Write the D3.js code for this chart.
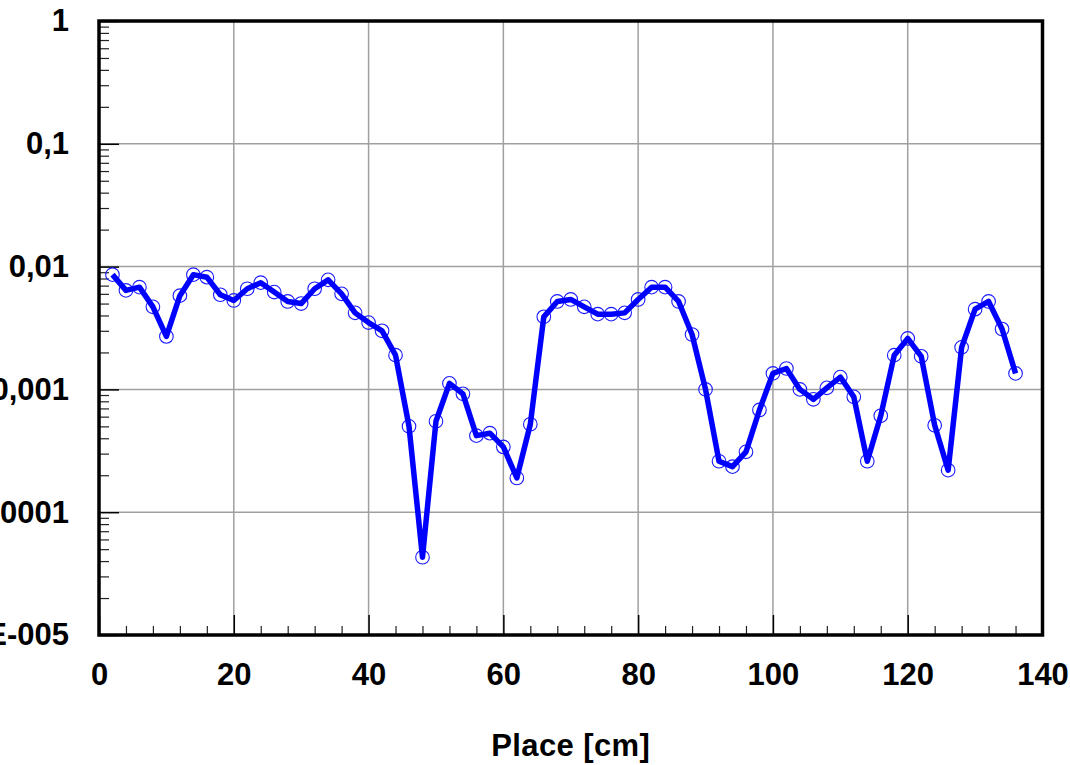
<!DOCTYPE html>
<html>
<head>
<meta charset="utf-8">
<script src="https://cdn.jsdelivr.net/npm/d3@7"></script>
<style>
  body { margin: 0; background: #fff; }
  svg { display: block; }
  text { font-family: "Liberation Sans", Arial, sans-serif; font-weight: bold; }
</style>
</head>
<body>
<div class="app"></div>
<script>
// Data
const place = [2, 4, 6, 8, 10, 12, 14, 16, 18, 20, 22, 24, 26, 28, 30, 32, 34, 36, 38, 40,
  42, 44, 46, 48, 50, 52, 54, 56, 58, 60, 62, 64, 66, 68, 70, 72, 74, 76, 78, 80,
  82, 84, 86, 88, 90, 92, 94, 96, 98, 100, 102, 104, 106, 108, 110, 112, 114, 116, 118, 120,
  122, 124, 126, 128, 130, 132, 134, 136];
const value = [0.0086, 0.0064, 0.0068, 0.0047, 0.0027, 0.0058, 0.0086, 0.0082, 0.0059, 0.0053,
  0.0066, 0.0074, 0.0062, 0.0052, 0.0050, 0.0066, 0.0078, 0.0060, 0.0042, 0.0035,
  0.0030, 0.0019, 0.00050, 0.000043, 0.00055, 0.00112, 0.00092, 0.00042, 0.00044, 0.00034,
  0.00019, 0.00052, 0.0039, 0.0052, 0.0054, 0.0047, 0.0041, 0.0041, 0.0042, 0.0054,
  0.0068, 0.0068, 0.0052, 0.0028, 0.0010, 0.00026, 0.000235, 0.00031, 0.00068, 0.00135,
  0.00148, 0.0010, 0.00083, 0.00103, 0.00126, 0.00087, 0.00026, 0.00061, 0.0019, 0.0026,
  0.00186, 0.00051, 0.00022, 0.0022, 0.0045, 0.0052, 0.0031, 0.00135];

const xTicks = [0, 20, 40, 60, 80, 100, 120, 140];
const xMinorTicks = [4, 8, 12, 16, 24, 28, 32, 36, 44, 48, 52, 56, 64, 68, 72, 76, 84, 88, 92, 96,
  104, 108, 112, 116, 124, 128, 132, 136];
const yTicks = [1, 0.1, 0.01, 0.001, 0.0001, 0.00001];
const yTickLabels = ["1", "0,1", "0,01", "0,001", "0,0001", "1E-005"];
const xTitle = "Place [cm]";

// Setup
const width = 1070, height = 765;
const margin = { top: 21, right: 27.5, bottom: 130, left: 99 };
const innerW = width - margin.left - margin.right;
const innerH = height - margin.top - margin.bottom;

const svg = d3.select('.app')
  .append('svg')
  .attr('width', width)
  .attr('height', height);

const g = svg.append('g')
  .attr('transform', `translate(${margin.left},${margin.top})`);

const x = d3.scaleLinear().domain([0, 140]).range([0, innerW]);
const y = d3.scaleLog().domain([0.00001, 1]).range([innerH, 0]);

// minor log ticks (2..9 of each decade)
const yMinorTicks = y.ticks().filter(v => {
  const m = v / Math.pow(10, Math.floor(Math.log10(v) + 1e-9));
  return Math.round(m) !== 1;
});

const styleLabels = sel => sel
  .attr('font-size', 31)
  .attr('font-family', '"Liberation Sans", Arial, sans-serif')
  .attr('font-weight', 'bold')
  .attr('fill', '#000');

// Gridlines
g.append('g')
  .attr('stroke', '#a0a0a0')
  .attr('stroke-width', 1.5)
  .selectAll('line.hgrid')
  .data(yTicks.slice(1, -1))
  .join('line')
  .attr('x1', 0).attr('x2', innerW)
  .attr('y1', d => y(d)).attr('y2', d => y(d));

g.append('g')
  .attr('stroke', '#a0a0a0')
  .attr('stroke-width', 1.5)
  .selectAll('line.vgrid')
  .data(xTicks.slice(1, -1))
  .join('line')
  .attr('y1', 0).attr('y2', innerH)
  .attr('x1', d => x(d)).attr('x2', d => x(d));

// Y axis: major ticks + labels
const yAxis = g.append('g')
  .call(d3.axisLeft(y).tickValues(yTicks).tickSize(-20).tickPadding(30)
    .tickFormat((d, i) => yTickLabels[i]));
yAxis.select('.domain').remove();
yAxis.selectAll('.tick line').attr('stroke', '#000').attr('stroke-width', 1.5);
yAxis.selectAll('.tick text').call(styleLabels);

// Y minor ticks
const yMinor = g.append('g')
  .call(d3.axisLeft(y).tickValues(yMinorTicks).tickSize(-10).tickFormat(''));
yMinor.select('.domain').remove();
yMinor.selectAll('.tick line').attr('stroke', '#222').attr('stroke-width', 1.2);

// X axis: major ticks + labels
const xAxis = g.append('g')
  .attr('transform', `translate(0,${innerH})`)
  .call(d3.axisBottom(x).tickValues(xTicks).tickSize(-20).tickPadding(28));
xAxis.select('.domain').remove();
xAxis.selectAll('.tick line').attr('stroke', '#000').attr('stroke-width', 1.5);
xAxis.selectAll('.tick text').call(styleLabels);

// X minor ticks
const xMinor = g.append('g')
  .attr('transform', `translate(0,${innerH})`)
  .call(d3.axisBottom(x).tickValues(xMinorTicks).tickSize(-9).tickFormat(''));
xMinor.select('.domain').remove();
xMinor.selectAll('.tick line').attr('stroke', '#222').attr('stroke-width', 1.2);

// Frame
g.append('rect')
  .attr('width', innerW)
  .attr('height', innerH)
  .attr('fill', 'none')
  .attr('stroke', '#000')
  .attr('stroke-width', 3.5);

// Series
const series = place.map((p, i) => ({ p, v: value[i] }));

g.append('g')
  .attr('fill', 'none')
  .attr('stroke', '#1a1aff')
  .attr('stroke-width', 1.1)
  .selectAll('circle')
  .data(series)
  .join('circle')
  .attr('cx', d => x(d.p))
  .attr('cy', d => y(d.v))
  .attr('r', 6.8);

g.append('path')
  .datum(series)
  .attr('fill', 'none')
  .attr('stroke', '#0000ff')
  .attr('stroke-width', 5.5)
  .attr('stroke-linejoin', 'round')
  .attr('d', d3.line().x(d => x(d.p)).y(d => y(d.v)));

// Axis title
svg.append('text')
  .attr('x', margin.left + innerW / 2)
  .attr('y', 756)
  .attr('text-anchor', 'middle')
  .attr('font-size', 31)
  .attr('letter-spacing', 0.4)
  .text(xTitle);
</script>
</body>
</html>
